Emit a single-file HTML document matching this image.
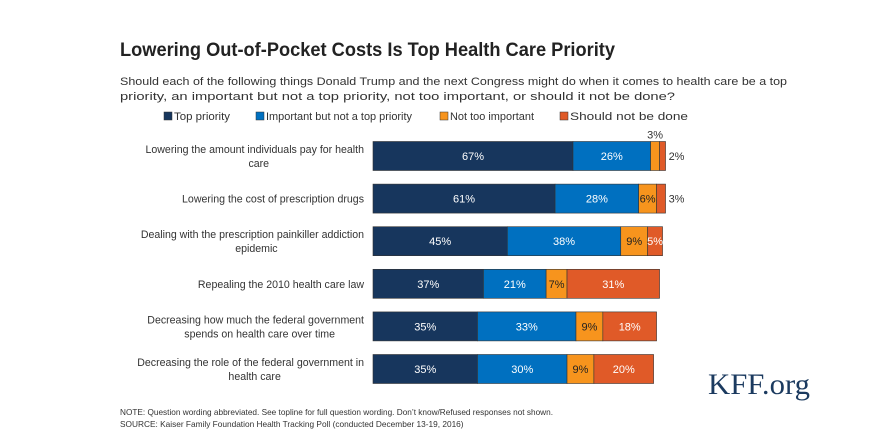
<!DOCTYPE html>
<html><head><meta charset="utf-8"><style>
html,body{margin:0;padding:0;background:#fff;}
svg{display:block;font-family:"Liberation Sans",sans-serif;}
</style></head><body>
<svg id="chart" width="877" height="438" viewBox="0 0 877 438">
<text x="120" y="56" font-size="19" font-weight="bold" fill="#222" textLength="495" lengthAdjust="spacingAndGlyphs">Lowering Out-of-Pocket Costs Is Top Health Care Priority</text>
<text font-size="11.2" fill="#333"><tspan x="120" y="85" textLength="667" lengthAdjust="spacingAndGlyphs">Should each of the following things Donald Trump and the next Congress might do when it comes to health care be a top</tspan><tspan x="120" y="100" textLength="555" lengthAdjust="spacingAndGlyphs">priority, an important but not a top priority, not too important, or should it not be done?</tspan></text>
<g id="legend"></g>
<g id="bars"></g>
<text x="708" y="394" font-size="30" fill="#1b3a5f" font-family="Liberation Serif, serif" textLength="102" lengthAdjust="spacingAndGlyphs">KFF.org</text>
<text x="120" y="415" font-size="8.3" fill="#333" textLength="433" lengthAdjust="spacingAndGlyphs">NOTE: Question wording abbreviated. See topline for full question wording. Don’t know/Refused responses not shown.</text>
<text x="120" y="427" font-size="8.3" fill="#333">SOURCE: Kaiser Family Foundation Health Tracking Poll (conducted December 13-19, 2016)</text>
</svg>
<script>
const categories = [
  ["Lowering the amount individuals pay for health","care"],
  ["Lowering the cost of prescription drugs"],
  ["Dealing with the prescription painkiller addiction","epidemic"],
  ["Repealing the 2010 health care law"],
  ["Decreasing how much the federal government","spends on health care over time"],
  ["Decreasing the role of the federal government in","health care"]
];
const seriesNames = ["Top priority","Important but not a top priority","Not too important","Should not be done"];
const topPriority = [67,61,45,37,35,35];
const important = [26,28,38,21,33,30];
const notTooImportant = [3,6,9,7,9,9];
const shouldNotBeDone = [2,3,5,31,18,20];

const NS="http://www.w3.org/2000/svg";
const colors=["#17365d","#0070c0","#f7941d","#e05a28"];
const textColors=["#fff","#fff","#222","#fff"];
const x0=373, scale=2.985, rowY0=156, rowStep=42.6, barH=29;
const xPos=v=>x0+v*scale;
const yPos=i=>rowY0+i*rowStep;
function mk(tag,attrs,parent){const e=document.createElementNS(NS,tag);for(const k in attrs)e.setAttribute(k,attrs[k]);parent.appendChild(e);return e;}

const legend=document.getElementById('legend');
const lx=[164,256,440,560];
const lw=[56,146,84,118];
seriesNames.forEach((n,i)=>{
  const r=mk('rect',{x:lx[i],y:112,width:8,height:8,fill:colors[i],stroke:'#333','stroke-width':0.5},legend);
  
  
  const t=mk('text',{x:lx[i]+10,y:120,'font-size':11,fill:'#333',textLength:lw[i],lengthAdjust:'spacingAndGlyphs'},legend);
  t.textContent=n;
  
  
});

const bars=document.getElementById('bars');
const series=[topPriority,important,notTooImportant,shouldNotBeDone];
const cvs=document.createElement('canvas').getContext('2d');
cvs.font='10.6px "Liberation Sans"';
categories.forEach((lines,i)=>{
  const cy=yPos(i);
  const lbl=mk('text',{'text-anchor':'middle','font-size':10.6,fill:'#333'},bars);
  
  
  const w0=cvs.measureText(lines[0]).width;
  const cx=364-w0/2;
  lines.forEach((l,j)=>{
    const ts=mk('tspan',{x:cx+(j>0?4:0),y:cy+4+(j-(lines.length-1)/2)*14},lbl);
    ts.textContent=l;
  });
  let acc=0;
  series.forEach((s,k)=>{
    const v=s[i];
    const xa=xPos(acc), xb=xPos(acc+v);
    const r=mk('rect',{x:xa,y:cy-barH/2,width:xb-xa,height:barH,fill:colors[k],stroke:'#333','stroke-width':0.6},bars);
    
    
    const t=mk('text',{'font-size':11,'text-anchor':'middle'},bars);
    
    
    t.textContent=v+'%';
    if(v>=5){
      t.setAttribute('x',(xa+xb)/2);t.setAttribute('y',cy+4);t.setAttribute('fill',textColors[k]);
    } else if(k===2){
      t.setAttribute('x',(xa+xb)/2);t.setAttribute('y',cy-barH/2-3);t.setAttribute('fill','#333');
    } else {
      t.setAttribute('x',xb+11);t.setAttribute('y',cy+4);t.setAttribute('fill','#333');
    }
    acc+=v;
  });
});
</script>
</body></html>
